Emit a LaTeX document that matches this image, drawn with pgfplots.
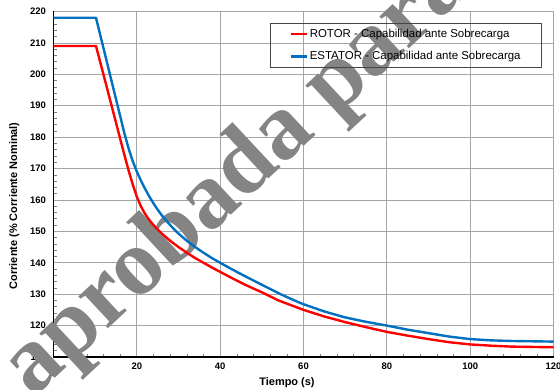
\documentclass[border=0pt]{standalone}
\usepackage{pgfplots}
\pgfplotsset{compat=1.18}
\usepackage{fontspec}
\setmainfont{Liberation Sans}
\newfontfamily\wmfont{Liberation Serif}
\definecolor{rotorred}{RGB}{255,0,0}
\definecolor{statorblue}{RGB}{0,112,192}
\definecolor{gridgray}{RGB}{165,165,165}
\definecolor{wmgray}{RGB}{132,132,132}
\definecolor{legdraw}{RGB}{70,70,70}
\begin{document}
\begin{tikzpicture}
\begin{axis}[
  name=ax, at={(0,0)}, anchor=south west,
  scale only axis, width=500bp, height=345.5bp,
  xmin=0, xmax=120, ymin=110, ymax=220,
  xtick={0,20,...,120}, ytick={110,120,...,220},
  minor x tick num=4, minor y tick num=4,
  axis x line*=bottom, axis y line*=left,
  axis line style={black, line width=1.3bp},
  grid=major, major grid style={gridgray, line width=0.7bp},
  major tick length=0pt, minor tick length=3bp,
  minor tick style={gray, line width=0.6bp},
  tick align=inside,
  clip=false,
  /pgf/number format/assume math mode=true,
  ticklabel style={font=\fontsize{9.5}{11}\selectfont\bfseries},
  yticklabel style={xshift=-4bp},
  xticklabel style={yshift=-2bp},
  xlabel={Tiempo (s)},
  ylabel={Corriente (\% Corriente Nominal)},
  label style={font=\fontsize{11}{13}\selectfont\bfseries},
  xlabel style={at={(axis description cs:0.467,-0.0744)}, anchor=center},
  ylabel style={at={(axis description cs:-0.0784,0.4376)}, anchor=center, rotate=0},
  legend style={at={(axis description cs:0.977,0.9667)}, anchor=north east,
    draw=legdraw, line width=0.8bp, fill=none,
    font=\fontsize{11.5}{13}\selectfont,
    inner xsep=19bp, inner ysep=4bp, row sep=8.5bp,
    nodes={inner sep=2bp}},
  legend cell align=left,
  legend image code/.code={\draw[#1] (0bp,0bp) -- (16bp,0bp);},
]
\node[overlay, rotate=43, anchor=base west, text=wmgray, inner sep=0pt,
  font=\wmfont\bfseries\fontsize{95}{95}\selectfont] at (axis cs:-4.8,96.6) {aprobada para};

\addplot[rotorred, line width=2.4bp, line join=round] coordinates {
(0,209) (10.2,209) (12,199.9) (14,189.7) (16,179.5) (17,174.4) (18,169.5)
(19,165.0) (20,161.0) (21,157.9) (22,155.5) (23,153.6) (24,152.0) (25,150.6)
(26,149.3) (28,147.0) (30,145.0) (32,143.2) (34,141.5) (36,140.0) (38,138.5)
(40,137.1) (43,135.0) (46,133.0) (50,130.6) (54,128.0) (58,126.0) (60,125.0)
(65,122.9) (70,121.1) (75,119.5) (80,118.0) (85,116.8) (90,115.7) (95,114.7)
(100,114.0) (105,113.6) (110,113.3) (115,113.2) (120,113.1)
};
\addlegendentry{ROTOR - Capabilidad ante Sobrecarga}

\addplot[statorblue, line width=2.4bp, line join=round] coordinates {
(0,218) (10.2,218) (12,208.3) (14,197.5) (16,186.7) (17,181.3) (18,176.5)
(19,172.4) (20,169.0) (21,166.1) (22,163.5) (23,161.1) (24,158.9) (25,156.9)
(26,155.1) (27,153.5) (28,152.0) (29,150.6) (30,149.3) (32,147.0) (34,145.0)
(36,143.2) (38,141.5) (40,140.0) (43,137.8) (46,135.7) (50,133.0) (54.5,130.0)
(58,127.9) (60,126.8) (65,124.5) (70,122.6) (75,121.2) (80,120.0) (85,118.7)
(90,117.6) (95,116.5) (100,115.7) (105,115.3) (110,115.1) (115,115.0) (120,114.9)
};
\addlegendentry{ESTATOR - Capabilidad ante Sobrecarga}
\end{axis}
\pgfresetboundingbox
\path ([xshift=-53.5bp,yshift=-33bp]ax.south west) rectangle ([xshift=6.5bp,yshift=11.5bp]ax.north east);
\end{tikzpicture}
\end{document}
